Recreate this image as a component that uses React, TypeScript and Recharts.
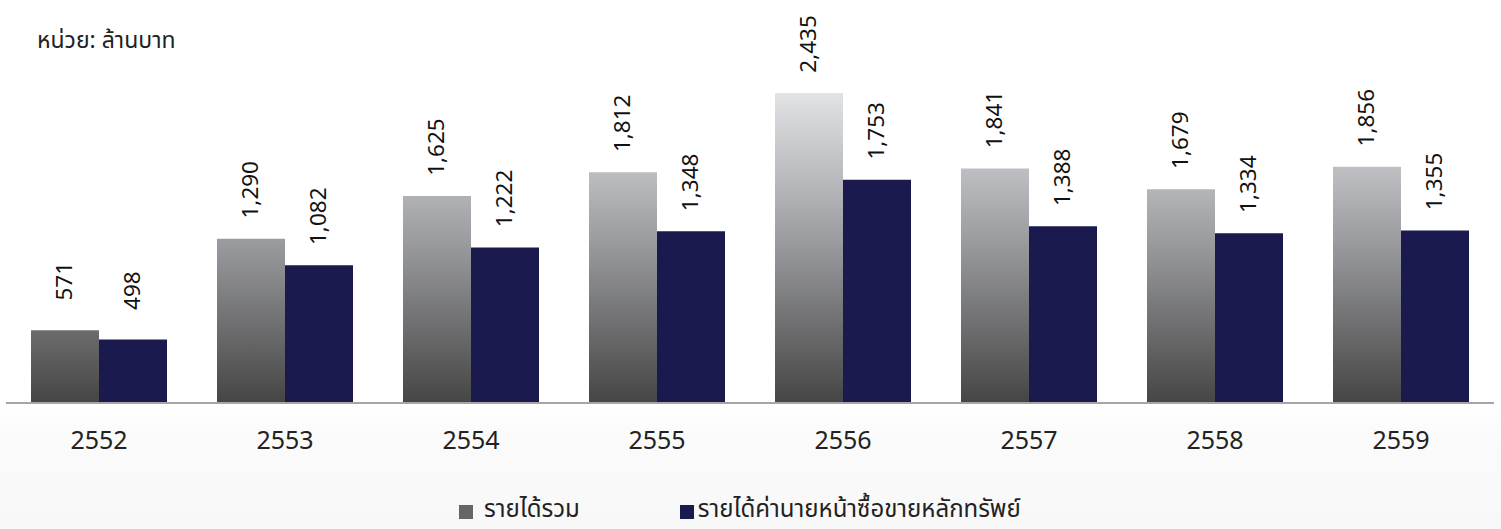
import React from 'react';
import { BarChart, Bar, XAxis, YAxis, LabelList } from 'recharts';

const years = ['2552', '2553', '2554', '2555', '2556', '2557', '2558', '2559'];
const totalRevenue = [571, 1290, 1625, 1812, 2435, 1841, 1679, 1856];
const brokerageRevenue = [498, 1082, 1222, 1348, 1753, 1388, 1334, 1355];
const seriesNames = ['รายได้รวม', 'รายได้ค่านายหน้าซื้อขายหลักทรัพย์'];
const unitLabel = 'หน่วย: ล้านบาท';

const data = years.map((y, i) => ({ year: y, total: totalRevenue[i], brokerage: brokerageRevenue[i] }));

const FONT = '"Noto Sans Thai", "Noto Sans", "Open Sans", sans-serif';

const ValueLabel = (props: any) => {
  const { x, y, width, value } = props;
  const cx = x + width / 2;
  const cy = y - 49;
  return (
    <text
      x={cx}
      y={cy}
      transform={`rotate(-90 ${cx} ${cy})`}
      textAnchor="middle"
      dominantBaseline="central"
      fontSize={22.5}
      fill="#111"
      fontFamily={FONT}
    >
      {Number(value).toLocaleString('en-US')}
    </text>
  );
};

const YearTick = (props: any) => {
  const { x, y, payload } = props;
  return (
    <text x={x} y={y + 46} textAnchor="middle" fontSize={25} fill="#222" fontFamily={FONT}>
      {payload.value}
    </text>
  );
};

export default function App() {
  return (
    <div
      style={{
        position: 'absolute',
        left: 0,
        top: 0,
        width: 1501,
        height: 529,
        fontFamily: FONT,
        background: 'linear-gradient(to bottom, #ffffff 0px, #ffffff 405px, #fbfbfb 430px, #f8f8f8 529px)',
        overflow: 'hidden',
      }}
    >
      <div style={{ position: 'absolute', left: 37, top: 26, fontSize: 23, lineHeight: '30px', color: '#222' }}>{unitLabel}</div>
      <BarChart
        width={1501}
        height={529}
        data={data}
        margin={{ top: 46.5, right: 7, left: 6, bottom: 66 }}
        barCategoryGap={25}
        barGap={0}
      >
        <defs>
          <linearGradient id="grayGrad" gradientUnits="userSpaceOnUse" x1="0" y1="93" x2="0" y2="403">
            <stop offset="0" stopColor="#e2e3e5" />
            <stop offset="0.47" stopColor="#9c9da1" />
            <stop offset="1" stopColor="#454545" />
          </linearGradient>
        </defs>
        <XAxis
          dataKey="year"
          height={60}
          axisLine={{ stroke: '#a6a6a6', strokeWidth: 2 }}
          tickLine={false}
          tickSize={0}
          tickMargin={0}
          tick={<YearTick />}
          interval={0}
        />
        <YAxis hide domain={[0, 2800]} />
        <Bar dataKey="total" fill="url(#grayGrad)" isAnimationActive={false}>
          <LabelList dataKey="total" content={<ValueLabel />} />
        </Bar>
        <Bar dataKey="brokerage" fill="#1b1a4f" isAnimationActive={false}>
          <LabelList dataKey="brokerage" content={<ValueLabel />} />
        </Bar>
      </BarChart>
      <div
        style={{
          position: 'absolute',
          top: 497,
          left: 459,
          height: 27,
          display: 'flex',
          alignItems: 'center',
          fontSize: 24,
          lineHeight: '27px',
          color: '#222',
          whiteSpace: 'nowrap',
        }}
      >
        <span style={{ display: 'inline-block', width: 14, height: 14, background: '#666666', marginRight: 11, marginTop: 3 }} />
        <span>{seriesNames[0]}</span>
        <span style={{ display: 'inline-block', width: 14, height: 14, background: '#1b1a4f', marginLeft: 100, marginRight: 4, marginTop: 3 }} />
        <span>{seriesNames[1]}</span>
      </div>
    </div>
  );
}
